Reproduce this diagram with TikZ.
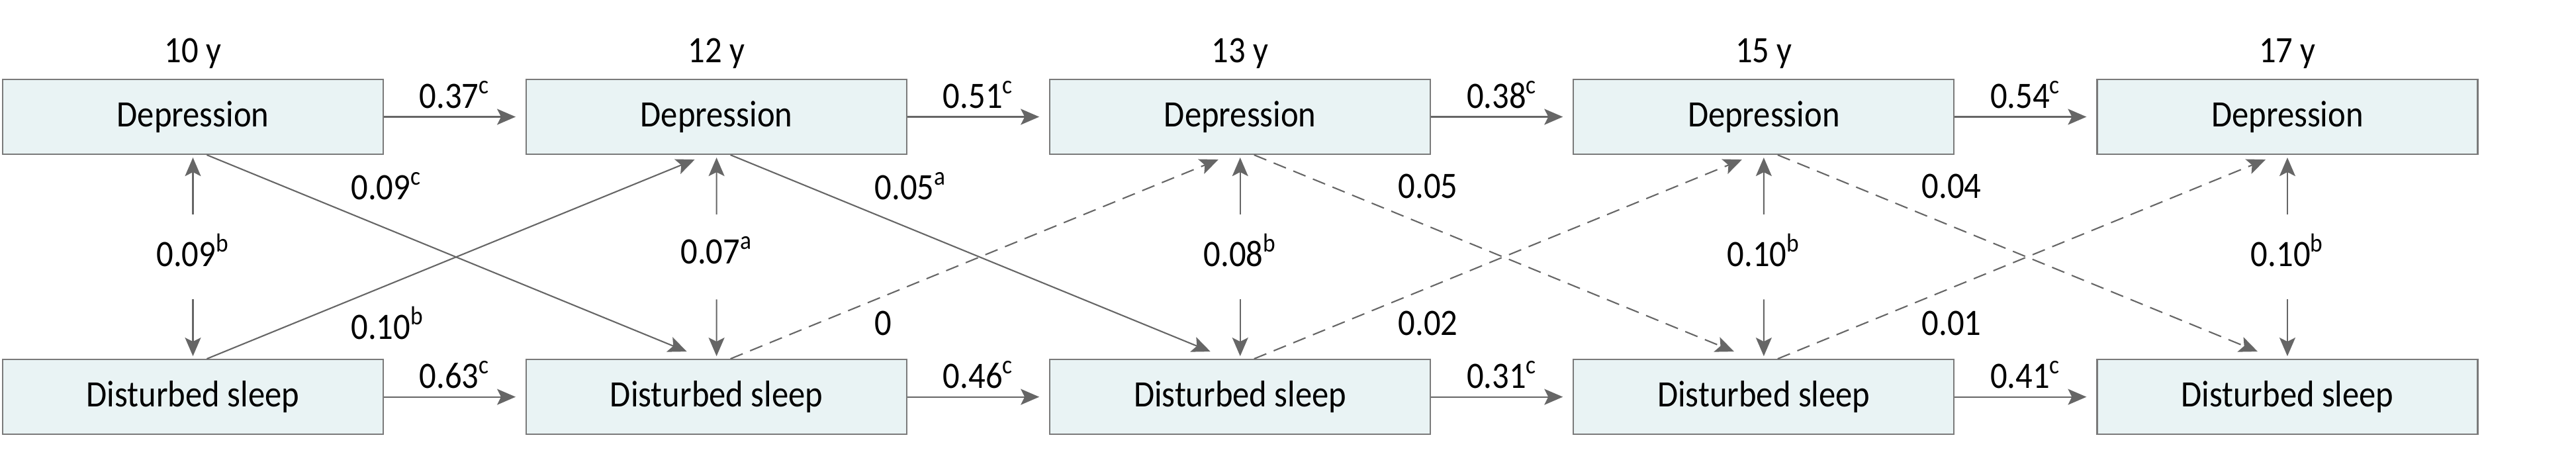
\documentclass[tikz,border=0pt]{standalone}
\usepackage{fontspec}
\setmainfont[FakeStretch=0.9]{Carlito}
\usepackage{tikz}
\usetikzlibrary{arrows.meta, positioning, calc}
\definecolor{boxfill}{HTML}{E9F3F4}
\definecolor{boxline}{HTML}{7A7A7A}
\definecolor{arrowgray}{HTML}{666666}
\tikzset{
  factor/.style={rectangle, minimum width=5.75cm, minimum height=1.13cm, text centered, draw=boxline, line width=0.6pt, fill=boxfill, font=\fontsize{16}{19}\selectfont},
  age/.style={anchor=base, font=\fontsize{16}{19}\selectfont},
  coef/.style={font=\fontsize{16}{19}\selectfont},
  corr/.style={coef, minimum height=1.27cm, text depth=0.2cm},
  arrow/.style={line width=0.6pt, draw=arrowgray, -{Stealth[length=2.8mm, width=2.4mm, inset=0.6mm]}, shorten >=0.4mm},
  nsarrow/.style={arrow, dash pattern=on 2mm off 1.2mm}
}

\begin{document}
\begin{tikzpicture}
\useasboundingbox (0,0) rectangle (38.92,-7.00);

% depression row
\node (dep10) [factor] at (2.915,-1.765) {Depression};
\node (dep12) [factor, right=2.14cm of dep10] {Depression};
\node (dep13) [factor, right=2.14cm of dep12] {Depression};
\node (dep15) [factor, right=2.14cm of dep13] {Depression};
\node (dep17) [factor, right=2.14cm of dep15] {Depression};

% sleep row
\node (sl10) [factor, below=3.08cm of dep10] {Disturbed sleep};
\node (sl12) [factor, below=3.08cm of dep12] {Disturbed sleep};
\node (sl13) [factor, below=3.08cm of dep13] {Disturbed sleep};
\node (sl15) [factor, below=3.08cm of dep15] {Disturbed sleep};
\node (sl17) [factor, below=3.08cm of dep17] {Disturbed sleep};

% ages
\node (age10) [age] at ([yshift=2.4mm]dep10.north) {10 y};
\node (age12) [age] at ([yshift=2.4mm]dep12.north) {12 y};
\node (age13) [age] at ([yshift=2.4mm]dep13.north) {13 y};
\node (age15) [age] at ([yshift=2.4mm]dep15.north) {15 y};
\node (age17) [age] at ([yshift=2.4mm]dep17.north) {17 y};

% correlations
\node (r10) [corr] at ($(dep10.south)!0.5!(sl10.north)$) {0.09\textsuperscript{b}};
\node (r12) [corr] at ($(dep12.south)!0.5!(sl12.north)$) {0.07\textsuperscript{a}};
\node (r13) [corr] at ($(dep13.south)!0.5!(sl13.north)$) {0.08\textsuperscript{b}};
\node (r15) [corr] at ($(dep15.south)!0.5!(sl15.north)$) {0.10\textsuperscript{b}};
\node (r17) [corr] at ($(dep17.south)!0.5!(sl17.north)$) {0.10\textsuperscript{b}};
\draw [arrow] (r10) -- (dep10);
\draw [arrow] (r10) -- (sl10);
\draw [arrow] (r12) -- (dep12);
\draw [arrow] (r12) -- (sl12);
\draw [arrow] (r13) -- (dep13);
\draw [arrow] (r13) -- (sl13);
\draw [arrow] (r15) -- (dep15);
\draw [arrow] (r15) -- (sl15);
\draw [arrow] (r17) -- (dep17);
\draw [arrow] (r17) -- (sl17);

% stability paths
\draw [arrow, shorten >=1.5mm] (dep10) -- node[coef, above] {0.37\textsuperscript{c}} (dep12);
\draw [arrow, shorten >=1.5mm] (dep12) -- node[coef, above] {0.51\textsuperscript{c}} (dep13);
\draw [arrow, shorten >=1.5mm] (dep13) -- node[coef, above] {0.38\textsuperscript{c}} (dep15);
\draw [arrow, shorten >=1.5mm] (dep15) -- node[coef, above] {0.54\textsuperscript{c}} (dep17);
\draw [arrow, shorten >=1.5mm] (sl10) -- node[coef, above] {0.63\textsuperscript{c}} (sl12);
\draw [arrow, shorten >=1.5mm] (sl12) -- node[coef, above] {0.46\textsuperscript{c}} (sl13);
\draw [arrow, shorten >=1.5mm] (sl13) -- node[coef, above] {0.31\textsuperscript{c}} (sl15);
\draw [arrow, shorten >=1.5mm] (sl15) -- node[coef, above] {0.41\textsuperscript{c}} (sl17);

% cross-lagged paths
\draw [arrow, shorten >=0pt] ([xshift=2.1mm]dep10.south) -- ([xshift=-4.5mm, yshift=1.1mm]sl12.north);
\draw [arrow, shorten >=0pt] ([xshift=2.1mm]sl10.north) -- ([xshift=-3.3mm, yshift=-0.7mm]dep12.south);
\draw [arrow, shorten >=0pt] ([xshift=2.1mm]dep12.south) -- ([xshift=-4.5mm, yshift=1.1mm]sl13.north);
\draw [nsarrow, shorten >=0pt] ([xshift=2.1mm]sl12.north) -- ([xshift=-3.3mm, yshift=-0.7mm]dep13.south);
\draw [nsarrow, shorten >=0pt] ([xshift=2.1mm]dep13.south) -- ([xshift=-4.5mm, yshift=1.1mm]sl15.north);
\draw [nsarrow, shorten >=0pt] ([xshift=2.1mm]sl13.north) -- ([xshift=-3.3mm, yshift=-0.7mm]dep15.south);
\draw [nsarrow, shorten >=0pt] ([xshift=2.1mm]dep15.south) -- ([xshift=-4.5mm, yshift=1.1mm]sl17.north);
\draw [nsarrow, shorten >=0pt] ([xshift=2.1mm]sl15.north) -- ([xshift=-3.3mm, yshift=-0.7mm]dep17.south);

\node (b10) [coef, anchor=west] at ([xshift=-6.2mm, yshift=-4.7mm]dep10.south east) {0.09\textsuperscript{c}};
\node (b12) [coef, anchor=west] at ([xshift=-6.2mm, yshift=-4.7mm]dep12.south east) {0.05\textsuperscript{a}};
\node (b13) [coef, anchor=west] at ([xshift=-6.2mm, yshift=-4.7mm]dep13.south east) {0.05};
\node (b15) [coef, anchor=west] at ([xshift=-6.2mm, yshift=-4.7mm]dep15.south east) {0.04};
\node (g10) [coef, anchor=west] at ([xshift=-6.2mm, yshift=5.4mm]sl10.north east) {0.10\textsuperscript{b}};
\node (g12) [coef, anchor=west] at ([xshift=-6.2mm, yshift=5.4mm]sl12.north east) {0};
\node (g13) [coef, anchor=west] at ([xshift=-6.2mm, yshift=5.4mm]sl13.north east) {0.02};
\node (g15) [coef, anchor=west] at ([xshift=-6.2mm, yshift=5.4mm]sl15.north east) {0.01};

\end{tikzpicture}
\end{document}
